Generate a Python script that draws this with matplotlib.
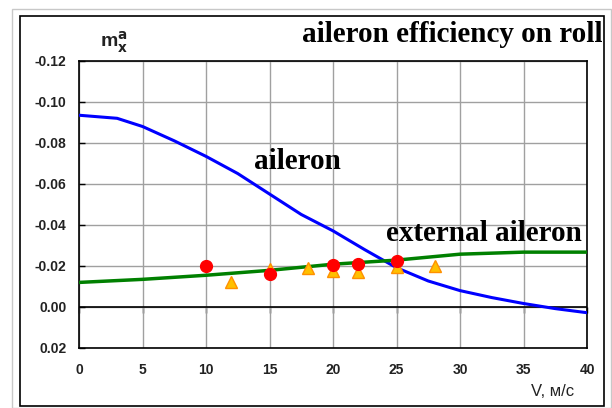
import matplotlib
matplotlib.use("Agg")
import matplotlib.pyplot as plt
from matplotlib.patches import Rectangle

# ── Data ─────────────────────────────────────────────────────────────────────
V_AILERON  = [0, 3, 5, 7.5, 10, 12.5, 15, 17.5, 20, 22.5, 25, 27.5, 30, 32.5, 35, 37.5, 40]
M_AILERON  = [-0.0935, -0.092, -0.088, -0.081, -0.0734, -0.065, -0.055, -0.045, -0.037,
              -0.0278, -0.019, -0.0125, -0.0078, -0.0044, -0.0015, 0.001, 0.003]

V_EXTERNAL = [0, 5, 10, 15, 20, 25, 30, 35, 40]
M_EXTERNAL = [-0.0118, -0.0133, -0.0153, -0.0177, -0.0207, -0.0227, -0.0256, -0.0266, -0.0266]

V_CIRCLES  = [10, 15, 20, 22, 25]
M_CIRCLES  = [-0.0197, -0.0158, -0.0202, -0.0207, -0.0222]

V_TRIANGLES = [12, 15, 18, 20, 22, 25, 28]
M_TRIANGLES = [-0.0118, -0.0182, -0.0187, -0.0172, -0.0167, -0.0192, -0.0197]

X_TICKS = [0, 5, 10, 15, 20, 25, 30, 35, 40]
Y_TICKS = [-0.12, -0.10, -0.08, -0.06, -0.04, -0.02, 0.00, 0.02]
Y_TICK_LABELS = ["-0.12", "-0.10", "-0.08", "-0.06", "-0.04", "-0.02", "0.00", "0.02"]

SERIF = ["Liberation Serif", "DejaVu Serif"]
SANS  = ["Liberation Sans", "DejaVu Sans"]
TICK_COLOR = "#222222"

# ── Figure ───────────────────────────────────────────────────────────────────
fig = plt.figure(figsize=(6.12, 4.08), dpi=100)
W, H = 612, 408

# outer frames (light gray border + black box)
fig.patches.append(Rectangle((12 / W, 0), (611 - 12) / W, 1 - 9 / H, transform=fig.transFigure,
                             fill=False, edgecolor="#c8c8c8", lw=1.0))
fig.patches.append(Rectangle((20 / W, 2 / H), (604 - 20) / W, (406 - 16) / H, transform=fig.transFigure,
                             fill=False, edgecolor="black", lw=1.2))

ax = fig.add_axes([79 / W, 1 - 347.5 / H, (587 - 79) / W, (347.5 - 61) / H])

ax.plot(V_AILERON, M_AILERON, color="#0000ff", lw=2.2, zorder=3)
ax.plot(V_EXTERNAL, M_EXTERNAL, color="#008000", lw=2.5, zorder=3)
ax.plot(V_TRIANGLES, M_TRIANGLES, linestyle="none", marker="^", ms=8,
        markerfacecolor="#ffc000", markeredgecolor="#ff9000", markeredgewidth=1.0, zorder=4)
ax.plot(V_CIRCLES, M_CIRCLES, linestyle="none", marker="o", ms=8.5,
        markerfacecolor="#ff0000", markeredgecolor="#ff0000", zorder=5)

ax.set_xlim(0, 40)
ax.set_ylim(0.02, -0.12)
ax.set_xticks(X_TICKS)
ax.set_yticks(Y_TICKS)
ax.set_yticklabels(Y_TICK_LABELS)
ax.grid(True, color="#a0a0a0", lw=1.0, zorder=1)
ax.set_axisbelow(True)
ax.axhline(0, color="black", lw=1.2, zorder=2)

for sp in ax.spines.values():
    sp.set_color("black")
    sp.set_linewidth(1.2)

ax.tick_params(axis="y", direction="in", length=4, width=1, pad=9,
               labelsize=10, labelcolor=TICK_COLOR)
ax.tick_params(axis="x", length=0, pad=11, labelsize=10, labelcolor=TICK_COLOR)
for lbl in ax.get_xticklabels() + ax.get_yticklabels():
    lbl.set_family(SANS)
    lbl.set_fontweight("bold")

# tick marks hanging below the zero line
zero_frac = 0.02 / 0.14
sec = ax.secondary_xaxis(zero_frac)
sec.xaxis.set_ticks_position("bottom")
sec.set_xticks(X_TICKS, labels=[""] * len(X_TICKS))
sec.tick_params(axis="x", direction="out", length=4, width=1,
                labelbottom=False, labeltop=False)
sec.spines["bottom"].set_visible(False)
sec.spines["top"].set_visible(False)

# labels
ax.text(17.2, -0.071, "aileron", family=SERIF, fontweight="bold", fontsize=21,
        ha="center", va="center", zorder=6)
ax.text(31.9, -0.0355, "external aileron", family=SERIF, fontweight="bold", fontsize=21,
        ha="center", va="center", zorder=6)
fig.text(603 / W, 1 - 35 / H, "aileron efficiency on roll", family=SERIF, fontweight="bold",
         fontsize=21, ha="right", va="center")
fig.text(100 / W, 1 - 42 / H, r"m$_{\mathbf{x}}^{\mathbf{a}}$", family=SANS, fontweight="bold",
         fontsize=14, color=TICK_COLOR, ha="left", va="center")
fig.text(574 / W, 1 - 392 / H, "V, м/с", family=SANS, fontsize=12,
         color=TICK_COLOR, ha="right", va="center")

fig.savefig("out.png", dpi=100)
